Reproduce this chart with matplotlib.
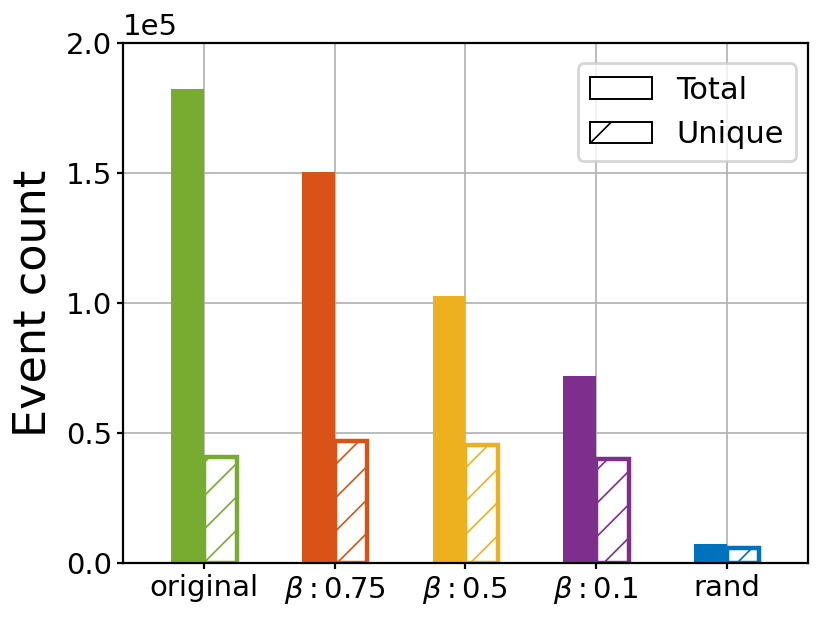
import numpy as np
import matplotlib.pyplot as plt
from matplotlib.patches import Patch

# data (units of 1e5 events)
categories = ["original", r"$\beta: 0.75$", r"$\beta: 0.5$", r"$\beta: 0.1$", "rand"]
total = [1.825, 1.505, 1.028, 0.72, 0.075]
unique = [0.41, 0.468, 0.455, 0.40, 0.058]
colors = ["#77AC30", "#D95319", "#EDB120", "#7E2F8E", "#0072BD"]

plt.rcParams["hatch.linewidth"] = 0.6

fig = plt.figure(figsize=(4.15, 3.115), dpi=200)
ax = fig.add_axes([0.148, 0.096, 0.825, 0.835])

x = np.arange(len(categories))
width = 0.25
ax.bar(x - width / 2, np.array(total) * 1e5, width, color=colors, zorder=2)
ax.bar(x + width / 2, np.array(unique) * 1e5, width, facecolor="white",
       edgecolor=colors, hatch="//", linewidth=1.6, zorder=2)

ax.set_xticks(x)
ax.set_xticklabels(categories, fontsize=10.5)
ax.set_xlim(-0.62, 4.62)
ax.set_ylim(0, 2.0e5)
ax.set_yticks([0, 0.5e5, 1.0e5, 1.5e5, 2.0e5])
ax.ticklabel_format(axis="y", style="sci", scilimits=(0, 0))
ax.yaxis.get_offset_text().set_fontsize(10.5)
ax.tick_params(axis="both", labelsize=10.5, length=2, pad=1.8)
ax.set_ylabel("Event count", fontsize=16)
ax.grid(True, color="#b0b0b0", linewidth=0.6)
ax.set_axisbelow(True)

handles = [Patch(facecolor="white", edgecolor="black", linewidth=0.7, label="Total"),
           Patch(facecolor="white", edgecolor="black", linewidth=0.7, hatch="/", label="Unique")]
ax.legend(handles=handles, loc="upper right", fontsize=11,
          bbox_to_anchor=(1.005, 0.99))

fig.savefig("out.png", dpi=200)
